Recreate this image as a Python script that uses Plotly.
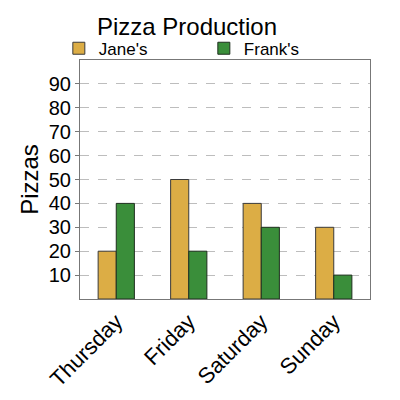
import plotly.graph_objects as go

days = ["Thursday", "Friday", "Saturday", "Sunday"]
janes = [20, 50, 40, 30]
franks = [40, 20, 30, 10]
y_ticks = [10, 20, 30, 40, 50, 60, 70, 80, 90]

fig = go.Figure()
fig.add_trace(go.Bar(x=days, y=janes, name="Jane's", legend="legend",
                     marker=dict(color="#dcad45", line=dict(color="#3a3a3a", width=1))))
fig.add_trace(go.Bar(x=days, y=franks, name="Frank's", legend="legend2",
                     marker=dict(color="#3a8e3a", line=dict(color="#1f2f1f", width=1))))

_leg = dict(orientation="h", y=0.972, xanchor="left", yanchor="bottom",
            font=dict(size=17), itemwidth=30, bgcolor="rgba(0,0,0,0)")

fig.update_layout(
    width=400, height=400, barmode="group", bargap=0.5, bargroupgap=0,
    paper_bgcolor="white", plot_bgcolor="white",
    font=dict(family="Liberation Sans, Arial, sans-serif", color="black", size=16),
    margin=dict(l=72, r=38, t=52, b=109, autoexpand=False),
    title=dict(text="Pizza Production", x=0.4475, xanchor="center", y=0.974, yanchor="top",
               font=dict(size=24)),
    legend=dict(x=-0.073, **_leg),
    legend2=dict(x=0.427, **_leg),
    showlegend=True,
)
fig.update_yaxes(range=[0, 100], tickvals=y_ticks, showgrid=True, gridcolor="#bdbdbd",
                 griddash="dash", gridwidth=1.2, showline=True, linecolor="#777", mirror=True,
                 ticks="outside", ticklen=4, tickcolor="#777", tickfont=dict(size=20),
                 title=dict(text="Pizzas", font=dict(size=24), standoff=3), zeroline=False)
fig.update_xaxes(showline=True, linecolor="#777", mirror=True, tickangle=-45,
                 tickfont=dict(size=22), ticks="")

fig.write_html("out.html")
